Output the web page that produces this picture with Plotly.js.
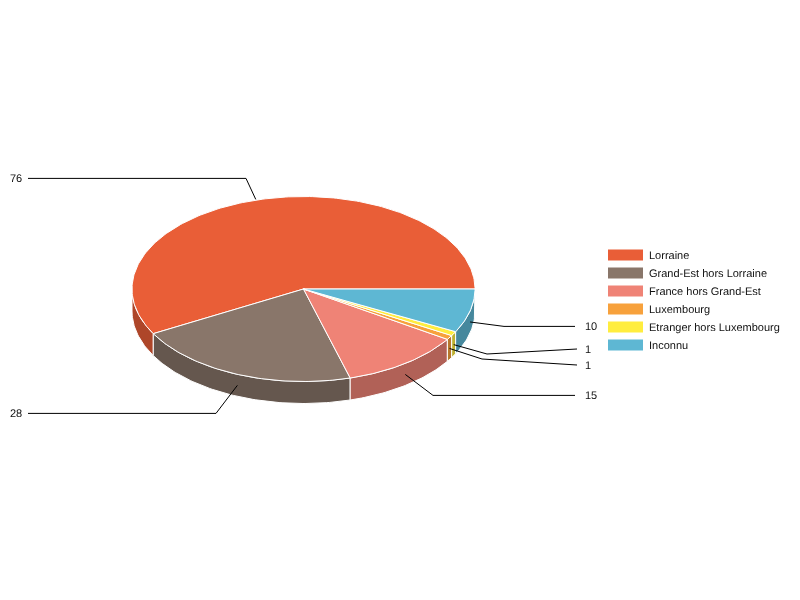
<!DOCTYPE html>
<html>
<head>
<meta charset="utf-8">
<script src="https://cdn.plot.ly/plotly-3.0.1.min.js"></script>
<style>
html,body{margin:0;padding:0;background:#fff}
#chart{width:800px;height:600px}
#chart .main-svg{will-change:transform}
#chart text{text-rendering:geometricPrecision;font-kerning:none}
</style>
</head>
<body>
<div id="chart"></div>
<script>
var categories = ["Lorraine","Grand-Est hors Lorraine","France hors Grand-Est","Luxembourg","Etranger hors Luxembourg","Inconnu"];
var values = [76,28,15,1,1,10];
var topColors = ["#E95E37","#89766A","#EF8376","#F7A13C","#FFED3F","#5EB7D3"];
var wallColors = ["#AE4629","#65574E","#B16157","#B7772C","#BDB02F","#46889D"];

// Pseudo-3D geometry (plot units = pixels)
var cx = 303.5, cy = 289, rx = 171.5, ry = 92.5, depth = 22;
// Leader layout: elbow and label end for every category
var elbowX = [246,216,433,482,487,504];
var elbowY = [178.4,413.4,395.4,359,354,326.4];
var endX = [28,28,575,577,577,575];
var endY = [178.4,413.4,395.4,365,349,326.4];
var labelX = [8,8,583,583,583,583];
var anchorShift = [-5,0,0,0,0,0];

var total = values.reduce(function(a,b){return a+b;},0);
function px(d){return cx + rx*Math.cos(d*Math.PI/180);}
function py(d,z){return cy - ry*Math.sin(d*Math.PI/180) + (z||0);}

var starts = [], ends = [], run = 0;
values.forEach(function(v){ starts.push(run/total*360); run += v; ends.push(run/total*360); });

function arc(a,b,z){
  var xs=[], ys=[], n=Math.max(2,Math.ceil(Math.abs(b-a)));
  for(var i=0;i<=n;i++){ var d=a+(b-a)*i/n; xs.push(px(d)); ys.push(py(d,z)); }
  return {x:xs,y:ys};
}
function polygon(color,x,y){
  return {type:"scatter",mode:"lines",x:x,y:y,fill:"toself",fillcolor:color,
          line:{color:"#ffffff",width:1},hoverinfo:"skip",showlegend:false};
}

var traces = [];
// walls: only the front half of the cylinder shows
values.forEach(function(v,i){
  var a=Math.max(starts[i],180), b=ends[i];
  if(b<=a) return;
  var t=arc(a,b,0), u=arc(b,a,depth);
  traces.push(polygon(wallColors[i],t.x.concat(u.x,[t.x[0]]),t.y.concat(u.y,[t.y[0]])));
});
// top faces
values.forEach(function(v,i){
  var t=arc(starts[i],ends[i],0);
  traces.push(polygon(topColors[i],[cx].concat(t.x,[cx]),[cy].concat(t.y,[cy])));
});
// leaders
var annotations = [];
var textFont = {family:"Liberation Sans, Arial, sans-serif",size:11,color:"#111111"};
values.forEach(function(v,i){
  var mid=(starts[i]+ends[i])/2, onWall = mid>180;
  var ax=px(mid)+anchorShift[i], ay=py(mid,onWall?depth/2:0);
  traces.push({type:"scatter",mode:"lines",x:[ax,elbowX[i],endX[i]],y:[ay,elbowY[i],endY[i]],
    line:{color:"#000000",width:1},hoverinfo:"skip",showlegend:false});
  annotations.push({x:labelX[i],y:endY[i],xref:"x",yref:"y",text:String(v),showarrow:false,
    xanchor:"left",yanchor:"middle",font:textFont});
});
// legend
var shapes = [];
var legX = 608, legW = 35, legH = 11, legY0 = 255, legStep = 18, legTextX = 647;
categories.forEach(function(c,i){
  var y=legY0+i*legStep;
  shapes.push({type:"rect",xref:"x",yref:"y",x0:legX,x1:legX+legW,y0:y-legH/2,y1:y+legH/2,
    fillcolor:topColors[i],line:{width:0},layer:"above"});
  annotations.push({x:legTextX,y:y,xref:"x",yref:"y",text:c,showarrow:false,xanchor:"left",yanchor:"middle",
    font:textFont});
});

Plotly.newPlot("chart",traces,{
  width:800,height:600,margin:{l:0,r:0,t:0,b:0},paper_bgcolor:"#ffffff",plot_bgcolor:"#ffffff",
  xaxis:{range:[0,800],autorange:false,visible:false,fixedrange:true},
  yaxis:{range:[600,0],autorange:false,visible:false,fixedrange:true},
  showlegend:false,hovermode:false,annotations:annotations,shapes:shapes
},{displayModeBar:false,staticPlot:true});
</script>
</body>
</html>
